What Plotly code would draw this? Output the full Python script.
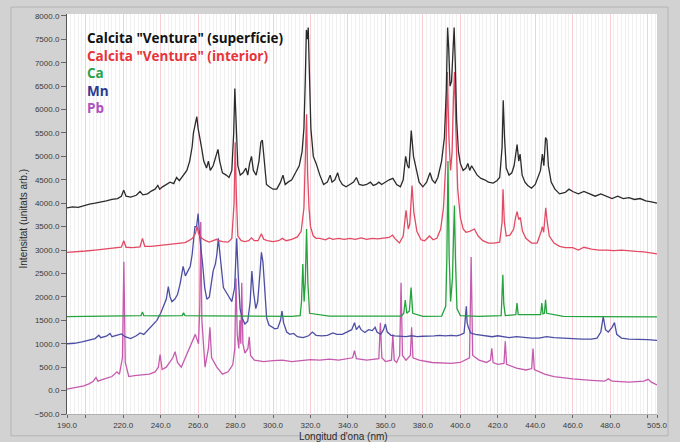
import plotly.graph_objects as go

# Emission spectra of "Ventura" calcite compared with Ca, Mn and Pb references
sup_nm = [190, 193, 196, 199, 202, 205, 208, 211, 214, 217, 219, 220.3, 221.5, 224, 227, 229, 230.5, 233, 235, 237,
          238.5, 239.5, 241, 243, 245, 247, 248.5, 250, 252, 254, 255.5, 256.8, 257.5, 258.5, 259.3, 260, 261, 262,
          263, 264.5, 265.5, 266.5, 268, 269.5, 270.6, 271.5, 273, 275, 276.5, 278, 279, 279.6, 280.3, 281.2, 282.5,
          284, 285.5, 286.5, 287.5, 288.5, 289.5, 291, 292.5, 293.5, 294.3, 295.2, 296.5, 298, 300, 302, 304, 305.3,
          306.5, 308, 310, 312, 314, 315.5, 316.5, 317.2, 317.8, 318.3, 318.8, 319.4, 320.2, 321.5, 323, 325, 327,
          329, 330.5, 331.5, 333, 334.5, 335.5, 337, 339, 341, 343, 344.5, 346, 348, 350, 352, 353.5, 355, 356.5,
          358, 360, 362, 364, 366, 368, 369.5, 370.8, 371.8, 372.6, 373.8, 375, 376.5, 378, 380, 382, 383.8, 385,
          386.5, 388, 390, 391.5, 392.5, 393.2, 393.8, 394.5, 395.3, 396, 396.7, 397.3, 398, 399, 400, 401.5, 403,
          404, 405, 406, 407.5, 409, 411, 413, 415, 417.5, 419.5, 421, 422.3, 422.9, 423.6, 424.5, 426, 427.5,
          428.7, 429.6, 430.3, 431.2, 431.9, 433, 434.5, 436, 438, 440, 441.5, 442.8, 443.8, 444.6, 445.5, 446.2,
          447, 448.5, 450.5, 453, 456, 458, 460, 463, 466, 469, 472, 475, 478, 481, 484, 487, 490, 493, 496, 499,
          502, 505]
sup_val = [3900, 3920, 3910, 3950, 3980, 4000, 4020, 4050, 4080, 4100, 4150, 4280, 4150, 4130, 4170, 4250, 4180,
           4200, 4260, 4300, 4380, 4300, 4350, 4400, 4450, 4420, 4550, 4480, 4600, 4700, 4900, 5200, 5500, 5750,
           5850, 5600, 5400, 5150, 4900, 4750, 4900, 4700, 4800, 5000, 5150, 4900, 4650, 4600, 4550, 4700, 5500,
           6450, 5600, 4800, 4600, 4650, 4750, 4600, 4850, 5000, 4700, 4600, 4900, 5300, 5350, 4900, 4400, 4350,
           4300, 4300, 4450, 4600, 4400, 4450, 4500, 4650, 4800, 5100, 5600, 6600, 7700, 7500, 7750, 6800, 5600,
           5000, 4850, 4600, 4400, 4450, 4600, 4450, 4500, 4650, 4500, 4400, 4350, 4400, 4450, 4550, 4400, 4380,
           4400, 4450, 4380, 4400, 4450, 4400, 4450, 4500, 4530, 4400, 4350, 4500, 5000, 4800, 4750, 5550, 5000,
           4700, 4450, 4350, 4450, 4650, 4500, 4430, 4550, 4900, 5400, 6400, 7750, 7300, 6500, 6600, 7300, 7750,
           7000, 5800, 5100, 4850, 4700, 4750, 4850, 4700, 4800, 4700, 4600, 4530, 4500, 4450, 4430, 4480, 4550,
           5200, 6200, 5400, 4750, 4600, 4650, 4800, 5100, 5250, 4900, 5050, 4600, 4450, 4380, 4320, 4400, 4550,
           4700, 5050, 4800, 5400, 5350, 4800, 4450, 4300, 4200, 4230, 4300, 4250, 4200, 4250, 4200, 4150, 4200,
           4150, 4100, 4150, 4100, 4120, 4080, 4100, 4050, 4030, 4000]

int_nm = [190, 195, 200, 205, 210, 215, 219, 220.3, 221.5, 225, 229, 230.3, 231.5, 235, 240, 245, 250, 253, 255,
          257, 258.5, 259.5, 260.2, 261, 262, 264, 266, 268, 270, 271, 273, 276, 278, 279.2, 279.8, 280.4, 281.2,
          283, 285, 287, 288.5, 290, 292, 293.8, 295, 297, 300, 303, 305, 307, 310, 313, 315, 316.5, 317.3, 317.9,
          318.5, 319.2, 320, 321.5, 323, 325, 328, 330, 332, 335, 338, 341, 344, 347, 350, 353, 356, 359, 362,
          363.8, 365, 367.5, 369.5, 371, 372.2, 373, 374.2, 375.2, 376.8, 379, 381, 383.5, 385.5, 387.5, 389.5,
          391, 392.3, 393.1, 393.9, 394.8, 395.6, 396.3, 396.9, 397.6, 398.6, 400, 401.5, 403, 405, 407.5, 409.5,
          412, 415, 418, 421, 422.3, 422.8, 423.5, 424.5, 426.5, 428.5, 429.5, 430.3, 431.2, 432, 433.2, 435, 438,
          441, 443.2, 443.8, 444.5, 445.6, 446.4, 447.5, 450, 453, 456, 460, 463, 466, 470, 474, 478, 482, 486,
          490, 494, 498, 502, 505]
int_val = [2950, 2960, 2980, 3000, 3020, 3050, 3060, 3200, 3060, 3050, 3070, 3250, 3080, 3080, 3100, 3120, 3150,
           3160, 3200, 3250, 3350, 3500, 3350, 3300, 3250, 3200, 3170, 3200, 3230, 3200, 3180, 3170, 3250, 4000,
           5300, 4200, 3300, 3200, 3180, 3200, 3260, 3200, 3200, 3350, 3230, 3200, 3180, 3200, 3250, 3200, 3230,
           3280, 3400, 3900, 4800, 5900, 4600, 3900, 3500, 3300, 3250, 3250, 3220, 3260, 3230, 3250, 3230, 3250,
           3230, 3260, 3230, 3250, 3240, 3250, 3270, 3320, 3250, 3150, 3300, 3850, 3450, 3550, 4380, 3800, 3400,
           3220, 3200, 3300, 3220, 3250, 3450, 3900, 4900, 6800, 5400, 4700, 5100, 6200, 6800, 5600, 4300, 3700,
           3450, 3380, 3400, 3450, 3300, 3200, 3150, 3150, 3170, 3600, 4300, 3600, 3300, 3320, 3450, 3700, 3820,
           3650, 3700, 3400, 3250, 3150, 3150, 3400, 3500, 3380, 3900, 3600, 3300, 3150, 3080, 3050, 3050, 3000,
           3060, 3020, 3000, 3000, 2990, 3000, 2980, 2970, 2960, 2940, 2920]

ca_nm = [190, 200, 210, 220, 229.5, 230.3, 231, 240, 251.5, 252.2, 253, 265, 280, 300, 310, 314.5, 315.2, 315.9,
         316.6, 317.2, 317.9, 318.6, 319.5, 330, 345, 360, 368.5, 369.8, 370.6, 371.4, 372.8, 373.7, 374.6, 380,
         390, 392.2, 392.8, 393.4, 394.0, 394.8, 395.8, 396.3, 396.85, 397.4, 398.2, 400, 410, 421.8, 422.2, 422.7,
         423.2, 424, 429.6, 430.25, 430.9, 442.9, 443.5, 444.1, 444.9, 445.5, 446.1, 455, 470, 490, 505]
ca_val = [1580, 1585, 1590, 1595, 1600, 1680, 1600, 1595, 1600, 1660, 1600, 1595, 1590, 1585, 1585, 1600, 1900,
          2700, 1900, 2300, 3450, 2300, 1650, 1590, 1585, 1580, 1590, 1650, 1930, 1650, 1700, 2200, 1650, 1585,
          1590, 1800, 2800, 4900, 2900, 1900, 2400, 3200, 3950, 2800, 1750, 1600, 1585, 1600, 1900, 2470, 1850,
          1600, 1620, 1870, 1620, 1620, 1870, 1640, 1650, 1940, 1650, 1585, 1580, 1575, 1575]

mn_nm = [190, 194, 198, 202, 205, 207, 208, 211, 213, 214, 217, 219, 221, 224, 227, 229, 231, 234, 236, 238, 240,
         241.5, 243, 244.1, 245, 246, 247.5, 249, 250.5, 252, 253.2, 254.5, 255.8, 256.8, 257.6, 258.3, 259.2,
         260, 260.8, 261.6, 262.4, 263.5, 264.7, 266, 267, 268, 269.2, 270, 270.8, 271.7, 272.6, 273.5, 275,
         276.5, 278, 279.5, 280.6, 281.5, 282.4, 283.5, 285, 286.5, 287.8, 288.7, 289.6, 290.8, 291.8, 293, 293.8,
         294.6, 295.5, 296.6, 297.8, 299.5, 301, 302.5, 304, 304.8, 305.6, 307.3, 309, 311, 313, 316, 319, 321,
         323, 326, 329, 332, 334, 337, 340, 342, 343.5, 344.5, 346, 347, 349, 351, 353, 354.5, 355.5, 357.5, 359,
         360, 361, 363, 365, 368, 371, 374, 377, 380, 383, 386, 389, 392, 395, 398, 400, 402, 403.2, 403.6,
         404.3, 405.5, 408, 411, 414, 417, 420, 423, 426, 430, 434, 438, 442, 446, 450, 455, 460, 465, 470, 473,
         475, 476.3, 477.5, 479, 481, 482.3, 483.5, 486, 490, 495, 500, 505]
mn_val = [1000, 1010, 1040, 1080, 1110, 1180, 1130, 1160, 1220, 1150, 1180, 1210, 1150, 1110, 1170, 1230, 1200,
          1320, 1420, 1500, 1650, 1800, 1950, 2220, 2000, 1900, 1950, 2050, 2300, 2650, 2450, 2550, 2650, 2900,
          3300, 3500, 3500, 3780, 3300, 2900, 2700, 2200, 1950, 2000, 2300, 2550, 2700, 2900, 3250, 2900, 2450,
          2200, 2100, 2000, 1900, 2200, 3250, 2400, 1750, 1550, 1420, 1480, 1900, 2550, 2100, 1750, 1900, 2500,
          2950, 2750, 2100, 1550, 1400, 1350, 1320, 1330, 1500, 1700, 1450, 1250, 1200, 1220, 1150, 1130, 1170,
          1250, 1180, 1170, 1180, 1230, 1200, 1200, 1250, 1300, 1450, 1300, 1380, 1300, 1240, 1300, 1280, 1350,
          1250, 1200, 1300, 1420, 1250, 1180, 1170, 1160, 1150, 1170, 1150, 1160, 1160, 1170, 1180, 1170, 1180,
          1170, 1190, 1230, 1800, 1450, 1350, 1230, 1200, 1180, 1160, 1150, 1170, 1150, 1130, 1150, 1130, 1120,
          1120, 1150, 1130, 1120, 1100, 1100, 1100, 1120, 1250, 1580, 1300, 1250, 1350, 1450, 1200, 1120, 1100,
          1100, 1090, 1070]

pb_nm = [190, 193, 196, 199, 202, 204, 205.5, 206.5, 210, 214, 216.7, 218, 219.6, 220.35, 221.1, 223, 226, 230,
         234, 237, 238.8, 239.7, 240.8, 243, 245, 246.5, 247.7, 249, 251, 254, 256.7, 258.5, 260.2, 260.9, 261.4,
         262, 263.7, 265.5, 266.3, 267.2, 270, 273, 276, 278.5, 279.6, 280.2, 280.9, 281.7, 282.3, 282.8, 283.3,
         283.9, 285, 286.6, 287.3, 288, 290, 295, 300, 305, 310, 315, 320, 325, 330, 335, 340, 342.5, 343.5,
         344.5, 350, 356.5, 357.3, 358.1, 360, 363.2, 363.96, 364.7, 366, 367.6, 368.35, 369.1, 371, 373.3, 374,
         374.7, 378, 385, 395, 400, 404.9, 405.78, 406.6, 410, 414, 416.1, 416.8, 417.5, 420, 423.3, 424, 424.7,
         430, 435, 438.1, 438.8, 439.5, 445, 450, 460, 470, 477, 479, 481, 490, 498, 500.3, 502, 505]
pb_val = [30, 50, 80, 100, 150, 200, 280, 200, 250, 300, 400, 350, 700, 2750, 600, 300, 320, 340, 350, 400, 500, 770,
          450, 500, 600, 700, 830, 600, 500, 770, 1050, 1200, 1000, 1800, 3600, 1500, 500, 900, 1350, 700, 500, 350,
          400, 550, 900, 2400, 1200, 900, 1500, 1000, 2300, 1000, 800, 900, 1150, 750, 650, 620, 640, 650, 620, 640,
          660, 650, 670, 650, 680, 700, 850, 680, 650, 680, 1450, 700, 620, 650, 1200, 650, 600, 750, 2300, 750,
          650, 750, 1350, 700, 650, 600, 580, 600, 700, 2850, 750, 650, 600, 650, 900, 600, 560, 580, 1050, 560,
          480, 440, 470, 900, 450, 350, 300, 250, 220, 200, 250, 200, 180, 200, 240, 180, 120]

series = [
    ("Calcita \"Ventura\" (superfície)", sup_nm, sup_val, "#2b2b2b", "#111111"),
    ("Calcita \"Ventura\" (interior)", int_nm, int_val, "#e34a64", "#e8333a"),
    ("Ca", ca_nm, ca_val, "#25a33d", "#2ea24a"),
    ("Mn", mn_nm, mn_val, "#4d4ea3", "#2b3990"),
    ("Pb", pb_nm, pb_val, "#c65aae", "#b04fc0"),
]

x_ticks = [190, 200, 220, 240, 260, 280, 300, 320, 340, 360, 380, 400, 420, 440, 460, 480, 500, 505]
x_labels = ["190.0", "", "220.0", "240.0", "260.0", "280.0", "300.0", "320.0", "340.0", "360.0", "380.0",
            "400.0", "420.0", "440.0", "460.0", "480.0", "", "505.0"]
y_ticks = [-500, 0, 500, 1000, 1500, 2000, 2500, 3000, 3500, 4000, 4500, 5000, 5500, 6000, 6500, 7000, 7500, 8000]

fig = go.Figure()
# draw the lower spectra first so the surface spectrum sits on top
for name, xs, ys, line_color, _ in reversed(series):
    fig.add_trace(go.Scatter(x=xs, y=ys, mode="lines", name=name,
                             line=dict(color=line_color, width=1.3), hoverinfo="skip"))

# coloured series names, stacked in the upper-left corner as one text block
key_text = "<br>".join(f'<span style="color:{c}">{n}</span>' for n, _, _, _, c in series)
fig.add_annotation(x=85, y=71.5, text=key_text, align="left",
                   xanchor="left", yanchor="middle",
                   font=dict(family="Open Sans", size=13.5, weight="bold"))

fig.update_layout(
    width=680, height=442,
    margin=dict(l=67, r=23, t=12, b=27),
    paper_bgcolor="#d2d2d2",
    plot_bgcolor="#ffffff",
    showlegend=False,
    font=dict(family="Liberation Sans", size=8, color="#3a3a3a"),
)
fig.update_xaxes(
    range=[190, 505], tickmode="array", tickvals=x_ticks, ticktext=x_labels,
    showgrid=True, gridcolor="#f8cdd6", gridwidth=1,
    minor=dict(tick0=190, dtick=2, showgrid=True, gridcolor="#f0f0f0", gridwidth=1),
    ticks="outside", ticklen=3, tickcolor="#666666", showline=True, linecolor="#b0b0b0",
    zeroline=False, tickfont=dict(size=8, color="#3a3a3a"),
)
fig.update_yaxes(
    range=[-500, 8040], tickmode="array", tickvals=y_ticks, tickformat=".1f",
    showgrid=False, zeroline=False, ticks="outside", ticklen=5, tickcolor="#666666",
    showline=True, linecolor="#555555", tickfont=dict(size=8, color="#3a3a3a"),
)

# axis titles placed as free text
fig.add_annotation(x=343, y=437.5, text="Longitud d'ona (nm)", xanchor="center", yanchor="middle",
                   font=dict(family="Liberation Sans", size=10, color="#2a2a2a"))
fig.add_annotation(x=23, y=218, text="Intensitat (unitats arb.)", xanchor="center", yanchor="middle",
                   textangle=-90, font=dict(family="Liberation Sans", size=10, color="#2a2a2a"))

# annotation positions above are given in pixels; convert them to paper fractions
pw, ph = 680 - 67 - 23, 442 - 12 - 27
for ann in fig.layout.annotations:
    ann.xref = "paper"
    ann.yref = "paper"
    ann.showarrow = False
    ann.x = (ann.x - 67) / pw
    ann.y = 1 - (ann.y - 12) / ph

# thin darker frame around the grey panel
fig.add_shape(type="rect", xref="paper", yref="paper",
              x0=-56 / pw, x1=1 + 11 / pw, y0=-22 / ph, y1=1 + 7 / ph,
              line=dict(color="#b4b4b4", width=1), fillcolor="rgba(0,0,0,0)", layer="below")

fig.write_html("out.html")
